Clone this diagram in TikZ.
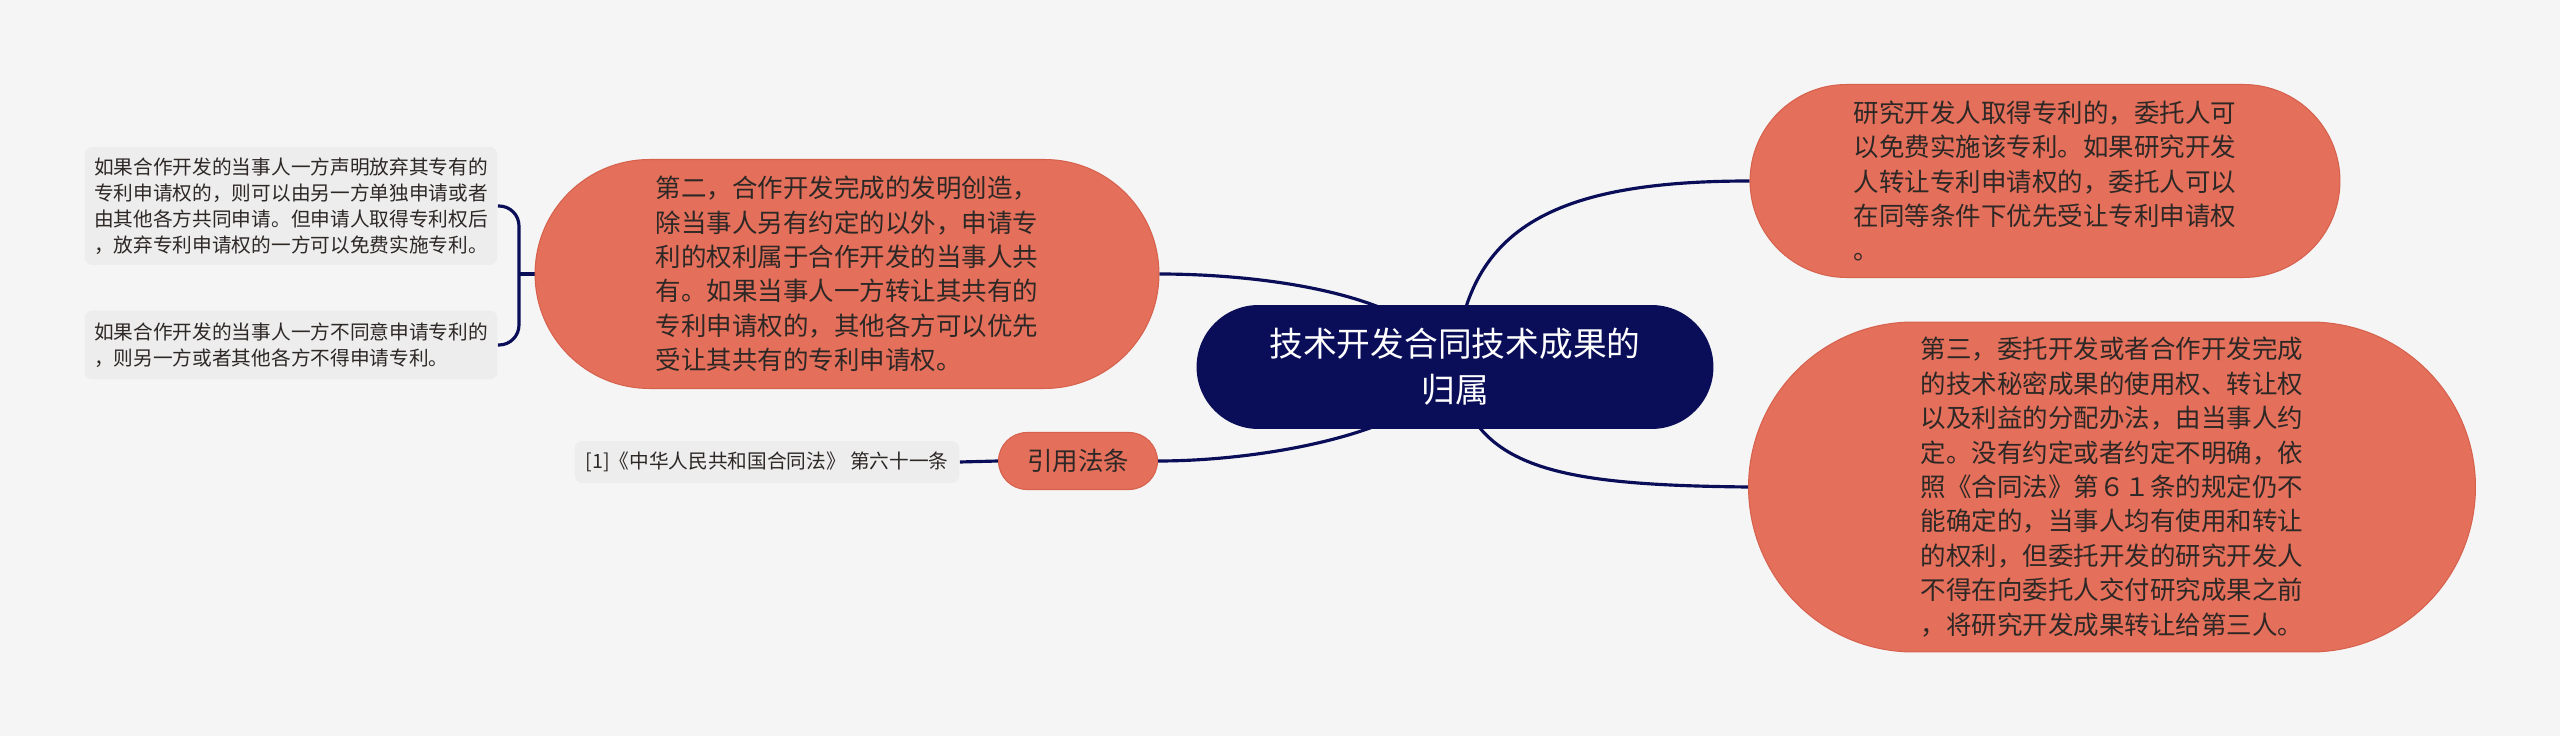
\documentclass[tikz,border=0pt]{standalone}
\usepackage{fontspec}
\setmainfont{Noto Sans CJK SC}
\definecolor{navy}{RGB}{10,14,88}
\definecolor{coral}{RGB}{228,111,90}
\definecolor{coraledge}{RGB}{214,98,78}
\definecolor{paper}{RGB}{245,245,245}
\definecolor{leafgray}{RGB}{237,237,237}
\definecolor{ink}{RGB}{45,40,38}
\pgfdeclarelayer{canvas}
\pgfdeclarelayer{links}
\pgfsetlayers{canvas,links,main}

\begin{document}
\begin{tikzpicture}[x=0.02cm,y=-0.02cm,
  link/.style={draw=navy,line width=1.8pt},
  topic/.style={fill=coral,draw=coraledge,line width=0.6pt,text=ink,align=left,inner sep=0pt,font=\fontsize{14.5}{19.6}\selectfont},
  leaf/.style={fill=leafgray,rounded corners=0.16cm,text=ink,align=left,inner sep=0pt,minimum width=8.26cm,font=\fontsize{11.2}{14.7}\selectfont}]
\begin{pgfonlayer}{canvas}
\fill[paper] (0,0) rectangle (2560,736);
\end{pgfonlayer}
\node[fill=navy,text=white,rounded corners=1.24cm,minimum width=10.34cm,minimum height=2.48cm,align=center,inner sep=0pt,font=\fontsize{19.2}{26}\selectfont] (root) at (1455,367) {技术开发合同技术成果的\\归属};
\node[topic,minimum width=12.48cm,minimum height=4.58cm,rounded corners=2.29cm] (second) at (847,274) {第二，合作开发完成的发明创造，\\除当事人另有约定的以外，申请专\\利的权利属于合作开发的当事人共\\有。如果当事人一方转让其共有的\\专利申请权的，其他各方可以优先\\受让其共有的专利申请权。};
\node[topic,minimum width=11.8cm,minimum height=3.86cm,rounded corners=1.93cm] (patent) at (2045,181) {研究开发人取得专利的，委托人可\\以免费实施该专利。如果研究开发\\人转让专利申请权的，委托人可以\\在同等条件下优先受让专利申请权\\。};
\node[topic,minimum width=14.54cm,minimum height=6.6cm,rounded corners=3.3cm] (third) at (2112,487) {第三，委托开发或者合作开发完成\\的技术秘密成果的使用权、转让权\\以及利益的分配办法，由当事人约\\定。没有约定或者约定不明确，依\\照《合同法》第６１条的规定仍不\\能确定的，当事人均有使用和转让\\的权利，但委托开发的研究开发人\\不得在向委托人交付研究成果之前\\，将研究开发成果转让给第三人。};
\node[topic,align=center,minimum width=3.18cm,minimum height=1.14cm,rounded corners=0.57cm] (law) at (1078,461) {引用法条};
\node[leaf,minimum width=7.7cm,minimum height=0.84cm] (cite) at (767,462) {[1]《中华人民共和国合同法》 第六十一条};
\node[leaf,minimum height=2.36cm] (waive) at (291,206) {如果合作开发的当事人一方声明放弃其专有的\\专利申请权的，则可以由另一方单独申请或者\\由其他各方共同申请。但申请人取得专利权后\\，放弃专利申请权的一方可以免费实施专利。};
\node[leaf,minimum height=1.38cm] (refuse) at (291,345) {如果合作开发的当事人一方不同意申请专利的\\，则另一方或者其他各方不得申请专利。};
\coordinate (brace) at (519,274);
\begin{pgfonlayer}{links}
\draw[link] (root.center) .. controls (1420,290) and (1250,274) .. (second.east);
\draw[link] (root.center) .. controls (1430,430) and (1270,461) .. (law.east);
\draw[link] (root.center) .. controls (1465,230) and (1550,181) .. (patent.west);
\draw[link] (root.center) .. controls (1470,470) and (1560,485) .. (third.west);
\draw[link] (law.west) -- (cite.east);
\draw[link,rounded corners=0.4cm] (waive.east) -| (brace) |- (refuse.east);
\draw[link] (brace) -- (second.west);
\end{pgfonlayer}
\end{tikzpicture}
\end{document}
